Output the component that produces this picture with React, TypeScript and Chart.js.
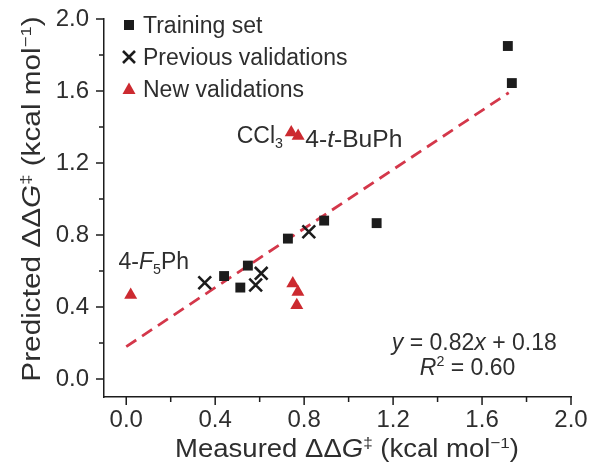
import React, { useEffect, useRef } from 'react';
import { Chart, registerables } from 'chart.js';

Chart.register(...registerables);

// Measured vs predicted ΔΔG‡ values (kcal/mol)
const trainingX = [0.44, 0.513, 0.547, 0.727, 0.89, 1.126, 1.716, 1.734];
const trainingY = [0.572, 0.508, 0.63, 0.78, 0.88, 0.866, 1.85, 1.644];
const previousX = [0.353, 0.582, 0.607, 0.821];
const previousY = [0.535, 0.522, 0.587, 0.818];
const newX = [0.02, 0.742, 0.773, 0.749, 0.772, 0.767];
const newY = [0.467, 1.37, 1.35, 0.531, 0.483, 0.41];

// Linear fit shown as dashed line
const fitSlope = 0.82;
const fitIntercept = 0.18;
const fitR2 = '0.60';
const fitRange = [0, 1.72];

const majorTicks = [0, 0.4, 0.8, 1.2, 1.6, 2.0];
const minorTicks = [0.2, 0.6, 1.0, 1.4, 1.8];

const seriesNames = ['Training set', 'Previous validations', 'New validations'];

const FONT = '"Liberation Sans", Arial, Helvetica, sans-serif';
const TEXT = '#2e2e2e';
const RED = '#cc2a30';
const LINE_RED = '#d4374a';
const BLACK = '#1c1c1c';

type Run = { t: string; it?: boolean; sup?: boolean; sub?: boolean };

function runFont(r: Run, size: number) {
  const s = r.sup || r.sub ? size * 0.62 : size;
  return `${r.it ? 'italic ' : ''}${s}px ${FONT}`;
}

// Draws a line of mixed italic / superscript / subscript text, optionally widened by sx
function drawRich(
  ctx: CanvasRenderingContext2D, runs: Run[], x: number, y: number, size: number,
  align: 'left' | 'center' | 'right', sx = 1,
) {
  ctx.save();
  ctx.textBaseline = 'alphabetic';
  ctx.textAlign = 'left';
  let total = 0;
  const widths = runs.map((r) => {
    ctx.font = runFont(r, size);
    const w = ctx.measureText(r.t).width;
    total += w;
    return w;
  });
  const start = align === 'left' ? x : align === 'center' ? x - (total * sx) / 2 : x - total * sx;
  ctx.translate(start, y);
  ctx.scale(sx, 1);
  let cx = 0;
  runs.forEach((r, i) => {
    ctx.font = runFont(r, size);
    const dy = r.sup ? -size * 0.38 : r.sub ? size * 0.22 : 0;
    ctx.fillStyle = TEXT;
    ctx.fillText(r.t, cx, dy);
    cx += widths[i];
  });
  ctx.restore();
}

const xTitle: Run[] = [
  { t: 'Measured ΔΔ' }, { t: 'G', it: true }, { t: '‡', sup: true },
  { t: ' (kcal mol' }, { t: '−1', sup: true }, { t: ')' },
];
const yTitle: Run[] = [
  { t: 'Predicted ΔΔ' }, { t: 'G', it: true }, { t: '‡', sup: true },
  { t: ' (kcal mol' }, { t: '−1', sup: true }, { t: ')' },
];

function drawMarker(ctx: CanvasRenderingContext2D, kind: number, x: number, y: number) {
  ctx.save();
  if (kind === 0) {
    ctx.fillStyle = BLACK;
    ctx.fillRect(x - 5, y - 5, 10, 10);
  } else if (kind === 1) {
    ctx.strokeStyle = BLACK;
    ctx.lineWidth = 2.6;
    ctx.beginPath();
    ctx.moveTo(x - 6, y - 6);
    ctx.lineTo(x + 6, y + 6);
    ctx.moveTo(x + 6, y - 6);
    ctx.lineTo(x - 6, y + 6);
    ctx.stroke();
  } else {
    ctx.fillStyle = RED;
    ctx.beginPath();
    ctx.moveTo(x, y - 6.5);
    ctx.lineTo(x + 6.5, y + 5);
    ctx.lineTo(x - 6.5, y + 5);
    ctx.closePath();
    ctx.fill();
  }
  ctx.restore();
}

const decorPlugin = {
  id: 'decor',
  afterDraw(chart: any) {
    const { ctx } = chart;
    const xs = chart.scales.x;
    const ys = chart.scales.y;
    const ca = chart.chartArea;

    // tick marks: long for labelled values, short in between
    ctx.save();
    ctx.strokeStyle = BLACK;
    ctx.lineWidth = 1.5;
    ctx.beginPath();
    majorTicks.forEach((v) => {
      const px = xs.getPixelForValue(v);
      ctx.moveTo(px, ca.bottom);
      ctx.lineTo(px, ca.bottom + 8);
      const py = ys.getPixelForValue(v);
      ctx.moveTo(ca.left, py);
      ctx.lineTo(ca.left - 8, py);
    });
    minorTicks.forEach((v) => {
      const px = xs.getPixelForValue(v);
      ctx.moveTo(px, ca.bottom);
      ctx.lineTo(px, ca.bottom + 5);
      const py = ys.getPixelForValue(v);
      ctx.moveTo(ca.left, py);
      ctx.lineTo(ca.left - 5, py);
    });
    ctx.stroke();
    ctx.restore();

    // axis titles
    drawRich(ctx, xTitle, 347, 457, 25, 'center', 1.1);
    ctx.save();
    ctx.translate(40, 199);
    ctx.rotate(-Math.PI / 2);
    drawRich(ctx, yTitle, 0, 0, 25, 'center', 1.19);
    ctx.restore();

    // legend
    seriesNames.forEach((name, i) => {
      const cy = 25 + i * 32;
      drawMarker(ctx, i, 129, cy);
      drawRich(ctx, [{ t: name }], 143, cy + 8, 23, 'left');
    });

    // point annotations
    const at = (x: number, y: number) => [xs.getPixelForValue(x), ys.getPixelForValue(y)];
    let [ax, ay] = at(0.705, 1.31);
    drawRich(ctx, [{ t: 'CCl' }, { t: '3', sub: true }], ax, ay, 23, 'right');
    [ax, ay] = at(0.805, 1.29);
    drawRich(ctx, [{ t: '4-' }, { t: 't', it: true }, { t: '-BuPh' }], ax, ay, 23, 'left', 1.07);
    [ax, ay] = at(-0.035, 0.61);
    drawRich(ctx, [{ t: '4-' }, { t: 'F', it: true }, { t: '5', sub: true }, { t: 'Ph' }], ax, ay, 23, 'left');

    // fit equation
    [ax, ay] = at(1.565, 0.16);
    drawRich(ctx, [
      { t: 'y', it: true }, { t: ` = ${fitSlope.toFixed(2)}` }, { t: 'x', it: true },
      { t: ` + ${fitIntercept.toFixed(2)}` },
    ], ax, ay, 23, 'center');
    [ax, ay] = at(1.535, 0.025);
    drawRich(ctx, [{ t: 'R', it: true }, { t: '2', sup: true }, { t: ` = ${fitR2}` }], ax, ay, 23, 'center');
  },
};

export default function App() {
  const ref = useRef<HTMLCanvasElement>(null);

  useEffect(() => {
    if (!ref.current) return;
    const pts = (xs: number[], ys: number[]) => xs.map((x, i) => ({ x, y: ys[i] }));
    const fitPts = fitRange.map((x) => ({ x, y: fitSlope * x + fitIntercept }));
    const scaleBase = {
      type: 'linear' as const,
      min: -0.1,
      max: 2.0,
      grid: { display: false, drawTicks: false },
      border: { display: true, color: BLACK, width: 1.5 },
      afterBuildTicks: (s: any) => {
        s.ticks = majorTicks.map((v) => ({ value: v }));
      },
    };
    const chart = new Chart(ref.current, {
      type: 'scatter',
      data: {
        datasets: [
          {
            label: seriesNames[0],
            data: pts(trainingX, trainingY),
            pointStyle: 'rect',
            pointRadius: 7,
            backgroundColor: BLACK,
            borderColor: BLACK,
            borderWidth: 0,
            order: 1,
          },
          {
            label: seriesNames[1],
            data: pts(previousX, previousY),
            pointStyle: 'crossRot',
            pointRadius: 9,
            borderColor: BLACK,
            borderWidth: 2.6,
            order: 1,
          },
          {
            label: seriesNames[2],
            data: pts(newX, newY),
            pointStyle: 'triangle',
            pointRadius: 7.5,
            backgroundColor: RED,
            borderColor: RED,
            borderWidth: 0,
            order: 1,
          },
          {
            type: 'line',
            label: 'fit',
            data: fitPts,
            borderColor: LINE_RED,
            borderWidth: 2.8,
            borderDash: [12, 7],
            pointRadius: 0,
            fill: false,
            order: 5,
          } as any,
        ],
      },
      options: {
        animation: false,
        responsive: true,
        maintainAspectRatio: false,
        layout: { padding: { top: 19, right: 22, left: 0, bottom: 0 } },
        plugins: { legend: { display: false }, tooltip: { enabled: false } },
        scales: {
          x: {
            ...scaleBase,
            ticks: {
              padding: 9,
              color: TEXT,
              font: { family: FONT, size: 24 },
              callback: (v: any) => Number(v).toFixed(1),
            },
            afterFit: (s: any) => {
              s.height = 72;
              s.paddingLeft = 0;
              s.paddingRight = 0;
            },
          },
          y: {
            ...scaleBase,
            ticks: {
              padding: 15,
              color: TEXT,
              font: { family: FONT, size: 24 },
              callback: (v: any) => Number(v).toFixed(1),
            },
            afterFit: (s: any) => {
              s.width = 104;
              s.paddingTop = 0;
              s.paddingBottom = 0;
            },
          },
        },
      },
      plugins: [decorPlugin],
    });
    return () => chart.destroy();
  }, []);

  return (
    <div style={{ position: 'absolute', left: 0, top: 0, width: 593, height: 469, background: '#fff' }}>
      <canvas ref={ref} />
    </div>
  );
}
